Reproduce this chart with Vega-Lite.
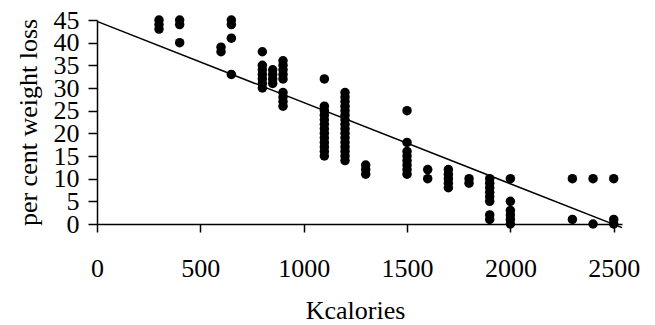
{
  "$schema": "https://vega.github.io/schema/vega-lite/v6.json",
  "autosize": {"type": "none"},
  "padding": {"left": 97, "top": 20, "right": 33, "bottom": 101},
  "width": 525,
  "height": 204,
  "background": "white",
  "config": {
    "view": {"stroke": null},
    "font": "Liberation Serif"
  },
  "datasets": {
    "pts": [
      {"kcal": 300, "loss": 45}, {"kcal": 300, "loss": 44}, {"kcal": 300, "loss": 43},
      {"kcal": 400, "loss": 45}, {"kcal": 400, "loss": 44}, {"kcal": 400, "loss": 40},
      {"kcal": 600, "loss": 39}, {"kcal": 600, "loss": 38},
      {"kcal": 650, "loss": 45}, {"kcal": 650, "loss": 44}, {"kcal": 650, "loss": 41}, {"kcal": 650, "loss": 33},
      {"kcal": 800, "loss": 38}, {"kcal": 800, "loss": 35}, {"kcal": 800, "loss": 34}, {"kcal": 800, "loss": 33}, {"kcal": 800, "loss": 32}, {"kcal": 800, "loss": 31}, {"kcal": 800, "loss": 30},
      {"kcal": 850, "loss": 34}, {"kcal": 850, "loss": 33}, {"kcal": 850, "loss": 32}, {"kcal": 850, "loss": 31},
      {"kcal": 900, "loss": 36}, {"kcal": 900, "loss": 35}, {"kcal": 900, "loss": 34}, {"kcal": 900, "loss": 33}, {"kcal": 900, "loss": 32}, {"kcal": 900, "loss": 29}, {"kcal": 900, "loss": 28}, {"kcal": 900, "loss": 27}, {"kcal": 900, "loss": 26},
      {"kcal": 1100, "loss": 32}, {"kcal": 1100, "loss": 26}, {"kcal": 1100, "loss": 25}, {"kcal": 1100, "loss": 24}, {"kcal": 1100, "loss": 23}, {"kcal": 1100, "loss": 22}, {"kcal": 1100, "loss": 21}, {"kcal": 1100, "loss": 20}, {"kcal": 1100, "loss": 19}, {"kcal": 1100, "loss": 18}, {"kcal": 1100, "loss": 17}, {"kcal": 1100, "loss": 16}, {"kcal": 1100, "loss": 15},
      {"kcal": 1200, "loss": 29}, {"kcal": 1200, "loss": 28}, {"kcal": 1200, "loss": 27}, {"kcal": 1200, "loss": 26}, {"kcal": 1200, "loss": 25}, {"kcal": 1200, "loss": 24}, {"kcal": 1200, "loss": 23}, {"kcal": 1200, "loss": 22}, {"kcal": 1200, "loss": 21}, {"kcal": 1200, "loss": 20}, {"kcal": 1200, "loss": 19}, {"kcal": 1200, "loss": 18}, {"kcal": 1200, "loss": 17}, {"kcal": 1200, "loss": 16}, {"kcal": 1200, "loss": 15}, {"kcal": 1200, "loss": 14},
      {"kcal": 1300, "loss": 13}, {"kcal": 1300, "loss": 12}, {"kcal": 1300, "loss": 11},
      {"kcal": 1500, "loss": 25}, {"kcal": 1500, "loss": 18}, {"kcal": 1500, "loss": 16}, {"kcal": 1500, "loss": 15}, {"kcal": 1500, "loss": 14}, {"kcal": 1500, "loss": 13}, {"kcal": 1500, "loss": 12}, {"kcal": 1500, "loss": 11},
      {"kcal": 1600, "loss": 12}, {"kcal": 1600, "loss": 10},
      {"kcal": 1700, "loss": 12}, {"kcal": 1700, "loss": 11}, {"kcal": 1700, "loss": 10}, {"kcal": 1700, "loss": 9}, {"kcal": 1700, "loss": 8},
      {"kcal": 1800, "loss": 10}, {"kcal": 1800, "loss": 9},
      {"kcal": 1900, "loss": 10}, {"kcal": 1900, "loss": 9}, {"kcal": 1900, "loss": 8}, {"kcal": 1900, "loss": 7}, {"kcal": 1900, "loss": 6}, {"kcal": 1900, "loss": 5}, {"kcal": 1900, "loss": 2}, {"kcal": 1900, "loss": 1},
      {"kcal": 2000, "loss": 10}, {"kcal": 2000, "loss": 5}, {"kcal": 2000, "loss": 3}, {"kcal": 2000, "loss": 2}, {"kcal": 2000, "loss": 1}, {"kcal": 2000, "loss": 0},
      {"kcal": 2300, "loss": 10}, {"kcal": 2300, "loss": 1},
      {"kcal": 2400, "loss": 10}, {"kcal": 2400, "loss": 0},
      {"kcal": 2500, "loss": 10}, {"kcal": 2500, "loss": 1}, {"kcal": 2500, "loss": 0}
    ],
    "fit": [
      {"kcal": 0, "loss": 44.7},
      {"kcal": 2540, "loss": -0.8}
    ]
  },
  "encoding": {
    "x": {
      "field": "kcal", "type": "quantitative",
      "scale": {"domain": [0, 2540], "nice": false, "zero": false},
      "axis": {
        "title": "Kcalories",
        "values": [0, 500, 1000, 1500, 2000, 2500],
        "format": "d",
        "grid": false,
        "domainColor": "black",
        "domainWidth": 1.5,
        "ticks": true,
        "tickColor": "black",
        "tickWidth": 1.5,
        "tickSize": 8,
        "labelColor": "black",
        "labelFont": "Liberation Serif",
        "labelFontSize": 26,
        "labelPadding": 23,
        "labelBaseline": "top",
        "labelFlush": false,
        "labelOverlap": false,
        "titleColor": "black",
        "titleFont": "Liberation Serif",
        "titleFontSize": 26,
        "titleFontWeight": "normal",
        "titlePadding": 16,
        "titleX": 258,
        "titleAnchor": null
      }
    },
    "y": {
      "field": "loss", "type": "quantitative",
      "scale": {"domain": [0, 45], "nice": false, "zero": false},
      "axis": {
        "title": "per cent weight loss",
        "values": [0, 5, 10, 15, 20, 25, 30, 35, 40, 45],
        "format": "d",
        "grid": false,
        "domainColor": "black",
        "domainWidth": 1.5,
        "ticks": true,
        "tickColor": "black",
        "tickWidth": 1.5,
        "tickSize": 9,
        "labelColor": "black",
        "labelFont": "Liberation Serif",
        "labelFontSize": 26,
        "labelPadding": 9,
        "labelFlush": false,
        "labelOverlap": false,
        "titleColor": "black",
        "titleFont": "Liberation Serif",
        "titleFontSize": 26,
        "titleFontWeight": "normal",
        "titlePadding": 12
      }
    }
  },
  "layer": [
    {
      "data": {"name": "pts"},
      "mark": {"type": "point", "shape": "circle", "filled": true, "color": "black", "opacity": 1, "size": 90}
    },
    {
      "data": {"name": "fit"},
      "mark": {"type": "line", "color": "black", "strokeWidth": 1.5, "clip": false}
    }
  ]
}
